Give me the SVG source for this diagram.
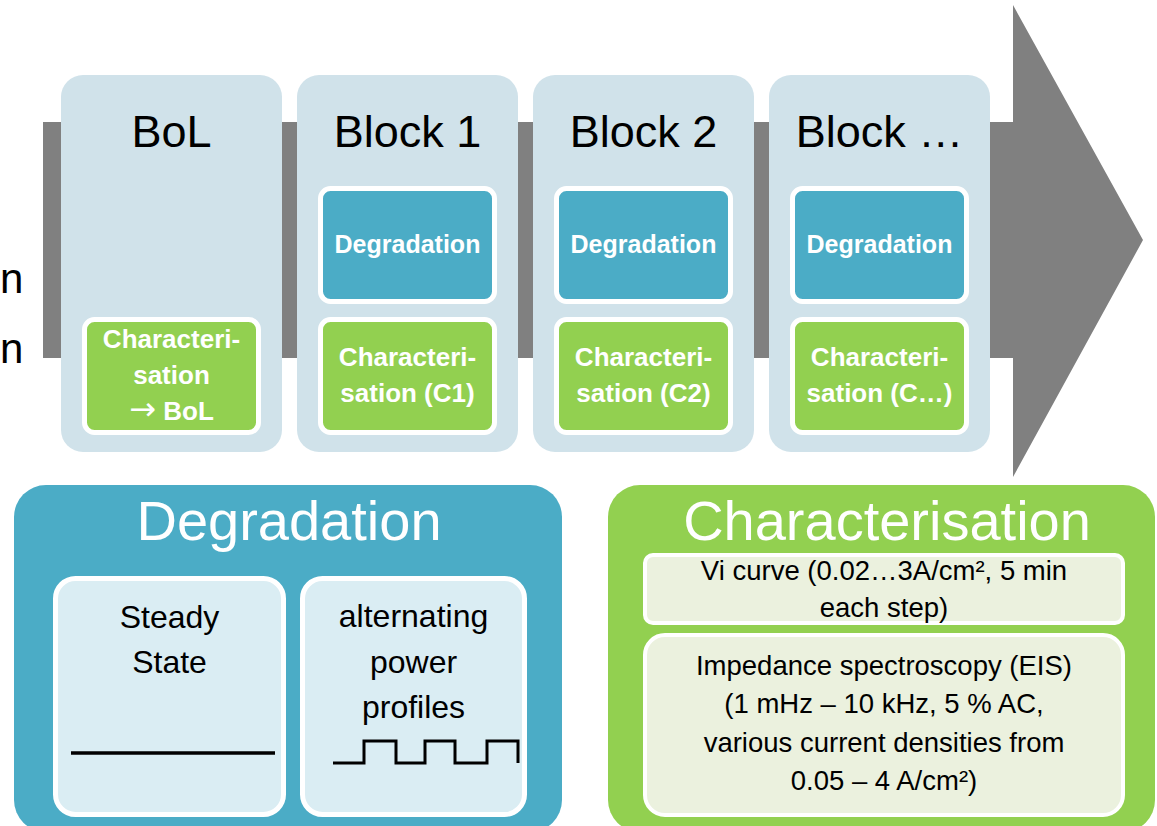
<svg xmlns="http://www.w3.org/2000/svg" width="1157" height="826" viewBox="0 0 1157 826">
<style>
.blk{fill:#d0e2ea}
.deg{fill:#4bacc6;stroke:#fff;stroke-width:5}
.chr{fill:#92d050;stroke:#fff;stroke-width:5}
.t{font-family:"Liberation Sans",Arial,sans-serif;text-anchor:middle}
.title{font-size:45px;fill:#000}
.wb{font-size:25px;font-weight:bold;fill:#fff}
.wc{font-size:26px;font-weight:bold;fill:#fff}
.big{font-size:56px;fill:#fff}
.body{font-size:32px;fill:#000}
.sm{font-size:27.5px;fill:#000}
.lite{fill:#daedf3;stroke:#fff;stroke-width:5}
.gl{fill:#ebf1de;stroke:#fff;stroke-width:4}
.edge{font-family:"Liberation Sans",Arial,sans-serif;font-size:42px;fill:#000}
</style>
<rect width="1157" height="826" fill="#fff"/>
<g id="edge-text">
<text class="edge" x="0" y="293">n</text>
<text class="edge" x="0" y="363">n</text>
</g>
<g id="connectors">
<polygon id="timeline-arrow" points="43,122 1013,122 1013,5 1143,240 1013,477 1013,358 43,358" fill="#808080"/>
</g>
<g id="bol">
<rect class="blk" x="61" y="75" width="221" height="377" rx="22"/>
<text class="t title" x="171.5" y="147">BoL</text>
<rect class="chr" x="84.5" y="319.5" width="174" height="113" rx="10"/>
<text class="t wc" x="171.5" y="348">Characteri-</text>
<text class="t wc" x="171.5" y="384">sation</text>
<text class="t wc" x="171.5" y="420"><tspan font-family="DejaVu Sans,sans-serif" font-weight="normal" font-size="32">→</tspan> BoL</text>
</g>
<g id="block1">
<rect class="blk" x="297" y="75" width="221" height="377" rx="22"/>
<text class="t title" x="407.5" y="147">Block 1</text>
<rect class="deg" x="320.5" y="188.5" width="174" height="113" rx="10"/>
<text class="t wb" x="407.5" y="253">Degradation</text>
<rect class="chr" x="320.5" y="319.5" width="174" height="113" rx="10"/>
<text class="t wc" x="407.5" y="366">Characteri-</text>
<text class="t wc" x="407.5" y="402">sation (C1)</text>
</g>
<g id="block2">
<rect class="blk" x="533" y="75" width="221" height="377" rx="22"/>
<text class="t title" x="643.5" y="147">Block 2</text>
<rect class="deg" x="556.5" y="188.5" width="174" height="113" rx="10"/>
<text class="t wb" x="643.5" y="253">Degradation</text>
<rect class="chr" x="556.5" y="319.5" width="174" height="113" rx="10"/>
<text class="t wc" x="643.5" y="366">Characteri-</text>
<text class="t wc" x="643.5" y="402">sation (C2)</text>
</g>
<g id="block-n">
<rect class="blk" x="769" y="75" width="221" height="377" rx="22"/>
<text class="t title" x="879.5" y="147">Block …</text>
<rect class="deg" x="792.5" y="188.5" width="174" height="113" rx="10"/>
<text class="t wb" x="879.5" y="253">Degradation</text>
<rect class="chr" x="792.5" y="319.5" width="174" height="113" rx="10"/>
<text class="t wc" x="879.5" y="366">Characteri-</text>
<text class="t wc" x="879.5" y="402">sation (C…)</text>
</g>
<g id="degradation-panel">
<rect x="14" y="485" width="548" height="347" rx="32" fill="#4bacc6"/>
<text class="t big" x="289" y="540">Degradation</text>
<g id="steady-state">
<rect class="lite" x="55.5" y="578.5" width="228" height="236" rx="20"/>
<text class="t body" x="169.5" y="628">Steady</text>
<text class="t body" x="169.5" y="673">State</text>
<line x1="71" y1="753" x2="275" y2="753" stroke="#000" stroke-width="3.5"/>
</g>
<g id="alternating">
<rect class="lite" x="302.5" y="578.5" width="222" height="236" rx="20"/>
<text class="t body" x="413.5" y="627">alternating</text>
<text class="t body" x="413.5" y="673">power</text>
<text class="t body" x="413.5" y="718">profiles</text>
<path d="M333,763 H364 V741 H396 V763 H425 V741 H455 V763 H487 V741 H518 V763" fill="none" stroke="#000" stroke-width="3"/>
</g>
</g>
<g id="characterisation-panel">
<rect x="608" y="485" width="547" height="347" rx="32" fill="#92d050"/>
<text class="t big" x="887" y="540">Characterisation</text>
<g id="vi-curve">
<rect class="gl" x="645" y="555" width="478" height="68" rx="8"/>
<text class="t sm" x="884" y="580">Vi curve (0.02…3A/cm², 5 min</text>
<text class="t sm" x="884" y="617">each step)</text>
</g>
<g id="eis">
<rect class="gl" x="645" y="635" width="478" height="180" rx="20"/>
<text class="t sm" x="884" y="675">Impedance spectroscopy (EIS)</text>
<text class="t sm" x="884" y="713">(1 mHz – 10 kHz, 5 % AC,</text>
<text class="t sm" x="884" y="752">various current densities from</text>
<text class="t sm" x="884" y="790">0.05 – 4 A/cm²)</text>
</g>
</g>
</svg>
